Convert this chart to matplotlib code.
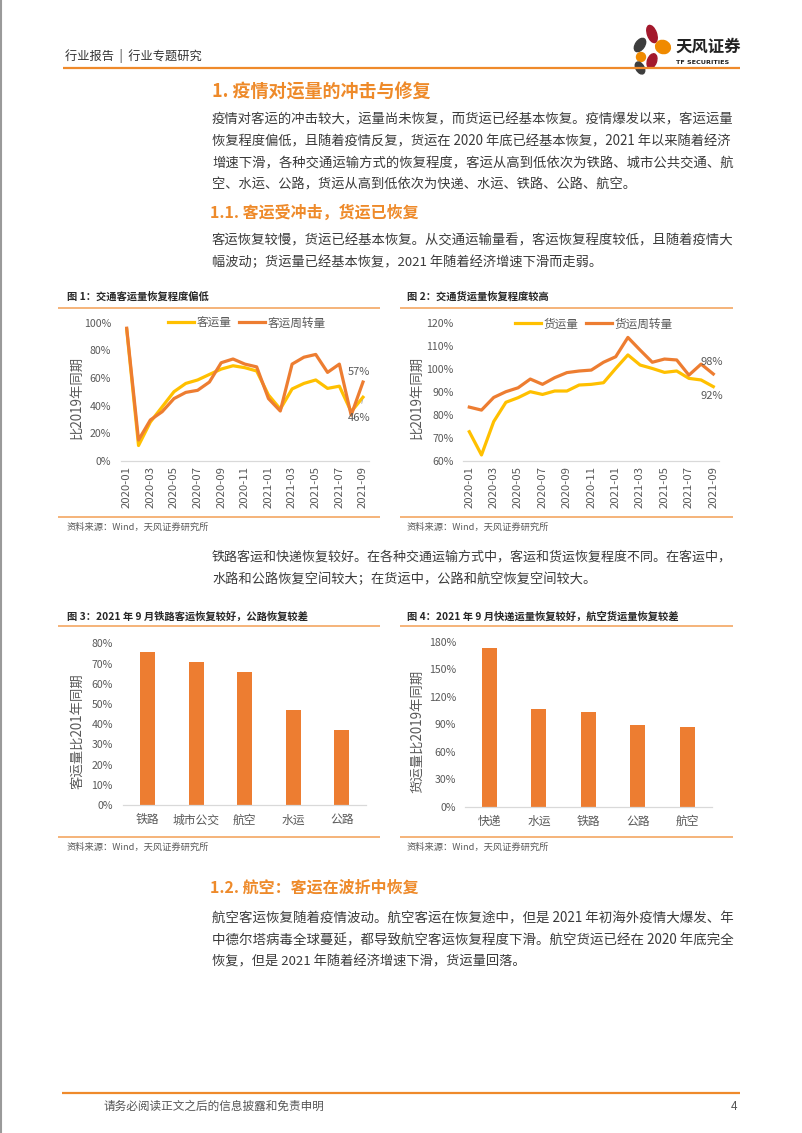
import matplotlib
matplotlib.use("Agg")
import matplotlib.pyplot as plt
from matplotlib.patches import Ellipse

plt.rcParams['font.family'] = ['Noto Sans CJK SC', 'DejaVu Sans']

# ---------------- data ----------------
months = ['2020-01', '2020-02', '2020-03', '2020-04', '2020-05', '2020-06', '2020-07',
          '2020-08', '2020-09', '2020-10', '2020-11', '2020-12', '2021-01', '2021-02',
          '2021-03', '2021-04', '2021-05', '2021-06', '2021-07', '2021-08', '2021-09']
pass_volume = [95, 11, 28, 39, 50, 56, 58.5, 62.5, 66.4, 68.8, 67.4, 65, 47.6, 37.4,
               52, 56, 58.5, 52.4, 54, 35.5, 46]
pass_turnover = [96, 15, 29.5, 35.5, 45, 49.5, 51, 57, 71, 73.7, 70, 68, 45, 36,
                 70, 75, 77, 64, 70, 33, 57]
freight_volume = [72.6, 62.5, 77, 85.4, 87.4, 90, 88.8, 90.3, 90.3, 92.9, 93.2, 93.9,
                  100.1, 106, 101.6, 100.1, 98.4, 99, 95.8, 95.1, 92.2]
freight_turnover = [83.3, 82, 87.5, 90, 91.7, 95.5, 93.2, 96.1, 98.3, 99, 99.4, 102.8,
                    105.2, 113.6, 108.1, 102.8, 104.2, 103.8, 97.2, 102, 97.7]

pass_modes = ['铁路', '城市公交', '航空', '水运', '公路']
pass_recovery = [75.9, 70.8, 66, 47, 37.1]
freight_modes = ['快递', '水运', '铁路', '公路', '航空']
freight_recovery = [172.7, 106.9, 103.3, 89.5, 86.9]

# ---------------- layout helpers ----------------
W, H = 802, 1133
fig = plt.figure(figsize=(W / 100, H / 100), dpi=100)
renderer = fig.canvas.get_renderer()

bg = fig.add_axes([0, 0, 1, 1])
bg.set_xlim(0, W)
bg.set_ylim(H, 0)
bg.axis('off')

YELLOW = '#FFC000'
ORANGE = '#ED7D31'
HEAD = '#EE8A2A'
TXT = '#3A3A3A'
GRAY = '#595959'
LINEC = '#F5AE6E'


def axes_px(x0, x1, y0, y1):
    return fig.add_axes([x0 / W, 1 - y1 / H, (x1 - x0) / W, (y1 - y0) / H])


def t(x, y, s, **kw):
    kw.setdefault('va', 'center')
    kw.setdefault('ha', 'left')
    return bg.text(x, y, s, **kw)


def paragraph(x, y0, lines, right=735, step=22, size=9.5):
    """Draw lines; every line except the last is fitted to the full column width."""
    for i, s in enumerate(lines):
        tx = t(x, y0 + step * i, s, fontsize=size, color=TXT)
        if i < len(lines) - 1:
            w = tx.get_window_extent(renderer).width
            scale = (right - x) / w
            scale = min(max(scale, 0.95), 1.06)
            tx.set_fontsize(size * scale)


# page border
bg.plot([1, 1], [0, H], color='#9a9a9a', lw=1.5)

# ---------------- header ----------------
t(65, 56, '行业报告  |  行业专题研究', fontsize=8.8, color='#333333')
bg.plot([63, 740], [68, 68], color='#EF8A2B', lw=1.6, solid_capstyle='butt')

# logo
bg.add_patch(Ellipse((652, 34), 9, 18, angle=-20, color='#A3182C'))
bg.add_patch(Ellipse((640, 45), 9, 15, angle=35, color='#3D3D3D'))
bg.add_patch(Ellipse((663, 47), 15, 13, angle=20, color='#F08A00'))
bg.add_patch(Ellipse((641, 57), 9, 9, color='#F08A00'))
bg.add_patch(Ellipse((652, 61), 9, 15, angle=20, color='#A3182C'))
bg.add_patch(Ellipse((640, 68), 8, 13, angle=-30, color='#3D3D3D'))
t(675, 47, '天风证券', fontsize=11.8, fontweight='bold', color='#222222')
t(676, 63, 'TF SECURITIES', fontsize=4.6, fontweight='bold', color='#222222',
  family='DejaVu Sans')

# ---------------- body text ----------------
t(212, 92, '1. 疫情对运量的冲击与修复', fontsize=13.0, fontweight='bold', color=HEAD)
para1 = ['疫情对客运的冲击较大，运量尚未恢复，而货运已经基本恢复。疫情爆发以来，客运运量',
         '恢复程度偏低，且随着疫情反复，货运在 2020 年底已经基本恢复，2021 年以来随着经济',
         '增速下滑，各种交通运输方式的恢复程度，客运从高到低依次为铁路、城市公共交通、航',
         '空、水运、公路，货运从高到低依次为快递、水运、铁路、公路、航空。']
paragraph(212, 119, para1)

t(210, 213, '1.1. 客运受冲击，货运已恢复', fontsize=11.5, fontweight='bold', color=HEAD)
para2 = ['客运恢复较慢，货运已经基本恢复。从交通运输量看，客运恢复程度较低，且随着疫情大',
         '幅波动；货运量已经基本恢复，2021 年随着经济增速下滑而走弱。']
paragraph(212, 240, para2)

para3 = ['铁路客运和快递恢复较好。在各种交通运输方式中，客运和货运恢复程度不同。在客运中，',
         '水路和公路恢复空间较大；在货运中，公路和航空恢复空间较大。']
paragraph(212, 557, para3)

t(210, 888, '1.2. 航空：客运在波折中恢复', fontsize=11.5, fontweight='bold', color=HEAD)
para4 = ['航空客运恢复随着疫情波动。航空客运在恢复途中，但是 2021 年初海外疫情大爆发、年',
         '中德尔塔病毒全球蔓延，都导致航空客运恢复程度下滑。航空货运已经在 2020 年底完全',
         '恢复，但是 2021 年随着经济增速下滑，货运量回落。']
paragraph(212, 918, para4)

# footer
bg.plot([62, 740], [1093, 1093], color='#EF8A2B', lw=1.6, solid_capstyle='butt')
t(103, 1106, '请务必阅读正文之后的信息披露和免责申明', fontsize=8.4, color='#555555')
t(737, 1106, '4', fontsize=8.4, color='#555555', ha='right')

# ---------------- chart frames ----------------
titles = [(67, 297, '图 1：交通客运量恢复程度偏低'),
          (407, 297, '图 2：交通货运量恢复程度较高'),
          (67, 617, '图 3：2021 年 9 月铁路客运恢复较好，公路恢复较差'),
          (407, 617, '图 4：2021 年 9 月快递运量恢复较好，航空货运量恢复较差')]
for x, y, s in titles:
    t(x, y, s, fontsize=7.4, fontweight='bold', color='#262626')
for (x0, x1) in [(58, 380), (400, 733)]:
    for y in [308, 517, 626, 837]:
        bg.plot([x0, x1], [y, y], color=LINEC, lw=1.3, solid_capstyle='butt')
for x in [67, 407]:
    for y in [527, 847]:
        t(x, y, '资料来源：Wind，天风证券研究所', fontsize=6.7, color=GRAY)

# y-axis labels
t(77, 397, '比2019年同期', fontsize=9.6, color=GRAY, rotation=90, ha='center')
t(417, 397, '比2019年同期', fontsize=9.6, color=GRAY, rotation=90, ha='center')
t(77, 731, '客运量比201年同期', fontsize=9.6, color=GRAY, rotation=90, ha='center')
t(417, 731, '货运量比2019年同期', fontsize=9.6, color=GRAY, rotation=90, ha='center')


def style(ax, ypad):
    for sp in ['top', 'right', 'left']:
        ax.spines[sp].set_visible(False)
    ax.spines['bottom'].set_color('#D9D9D9')
    ax.spines['bottom'].set_linewidth(0.9)
    ax.tick_params(length=0, colors=GRAY)
    ax.tick_params(axis='y', labelsize=7.6, pad=ypad)
    ax.patch.set_alpha(0)


def pct(vals):
    return ['%d%%' % v for v in vals]


# ---------------- chart 1 ----------------
x = list(range(len(months)))
ax1 = axes_px(120.8, 368.9, 322.7, 460.7)
l1, = ax1.plot(x, pass_volume, color=YELLOW, lw=2.3, label='客运量')
l2, = ax1.plot(x, pass_turnover, color=ORANGE, lw=2.3, label='客运周转量')
ax1.set_xlim(-0.5, 20.5)
ax1.set_ylim(0, 100)
yt = list(range(0, 101, 20))
ax1.set_yticks(yt)
ax1.set_yticklabels(pct(yt))
ax1.set_xticks(x[::2])
ax1.set_xticklabels(months[::2], rotation=90, fontsize=8.2)
ax1.tick_params(axis='x', pad=4)
style(ax1, 7)
ax1.annotate('%d%%' % round(pass_turnover[-1]), (x[-1], pass_turnover[-1]),
             xytext=(-3, 7.5), textcoords='offset points', ha='center', va='center',
             fontsize=8, color=GRAY)
ax1.annotate('%d%%' % round(pass_volume[-1]), (x[-1], pass_volume[-1]),
             xytext=(-3, -15), textcoords='offset points', ha='center', va='center',
             fontsize=8, color=GRAY,
             arrowprops=dict(arrowstyle='-', color='#A6A6A6', lw=0.6, shrinkA=5, shrinkB=2))
ax1.legend(handles=[l1, l2], loc='center', bbox_to_anchor=(247 / W, 1 - 323 / H),
           bbox_transform=fig.transFigure, ncol=2, frameon=False, fontsize=8.4,
           handlelength=2.2, handletextpad=0.3, columnspacing=0.6, labelcolor=GRAY)

# ---------------- chart 2 ----------------
ax2 = axes_px(463.2, 719.4, 322.7, 460.7)
m1, = ax2.plot(x, freight_volume, color=YELLOW, lw=2.3, label='货运量')
m2, = ax2.plot(x, freight_turnover, color=ORANGE, lw=2.3, label='货运周转量')
ax2.set_xlim(-0.5, 20.5)
ax2.set_ylim(60, 120)
yt2 = list(range(60, 121, 10))
ax2.set_yticks(yt2)
ax2.set_yticklabels(pct(yt2))
ax2.set_xticks(x[::2])
ax2.set_xticklabels(months[::2], rotation=90, fontsize=8.2)
ax2.tick_params(axis='x', pad=4)
style(ax2, 7)
ax2.annotate('%d%%' % round(freight_turnover[-1]), (x[-1], freight_turnover[-1]),
             xytext=(-1.2, 8.6), textcoords='offset points', ha='center', va='center',
             fontsize=8, color=GRAY)
ax2.annotate('%d%%' % round(freight_volume[-1]), (x[-1], freight_volume[-1]),
             xytext=(-1.2, -6.5), textcoords='offset points', ha='center', va='center',
             fontsize=8, color=GRAY)
ax2.legend(handles=[m1, m2], loc='center', bbox_to_anchor=(594 / W, 1 - 324 / H),
           bbox_transform=fig.transFigure, ncol=2, frameon=False, fontsize=8.4,
           handlelength=2.2, handletextpad=0.3, columnspacing=0.6, labelcolor=GRAY)

# ---------------- chart 3 ----------------
ax3 = axes_px(123.4, 366, 643.3, 805)
ax3.bar(range(len(pass_modes)), pass_recovery, width=0.31, color=ORANGE)
ax3.set_xlim(-0.5, 4.5)
ax3.set_ylim(0, 80)
yt3 = list(range(0, 81, 10))
ax3.set_yticks(yt3)
ax3.set_yticklabels(pct(yt3))
ax3.set_xticks(range(len(pass_modes)))
ax3.set_xticklabels(pass_modes, fontsize=8.5)
ax3.tick_params(axis='x', pad=6)
style(ax3, 7.5)

# ---------------- chart 4 ----------------
ax4 = axes_px(464.6, 712, 641.7, 806.7)
ax4.bar(range(len(freight_modes)), freight_recovery, width=0.31, color=ORANGE)
ax4.set_xlim(-0.5, 4.5)
ax4.set_ylim(0, 180)
yt4 = list(range(0, 181, 30))
ax4.set_yticks(yt4)
ax4.set_yticklabels(pct(yt4))
ax4.set_xticks(range(len(freight_modes)))
ax4.set_xticklabels(freight_modes, fontsize=8.5)
ax4.tick_params(axis='x', pad=6)
style(ax4, 6.2)

fig.savefig('out.png', dpi=100)
